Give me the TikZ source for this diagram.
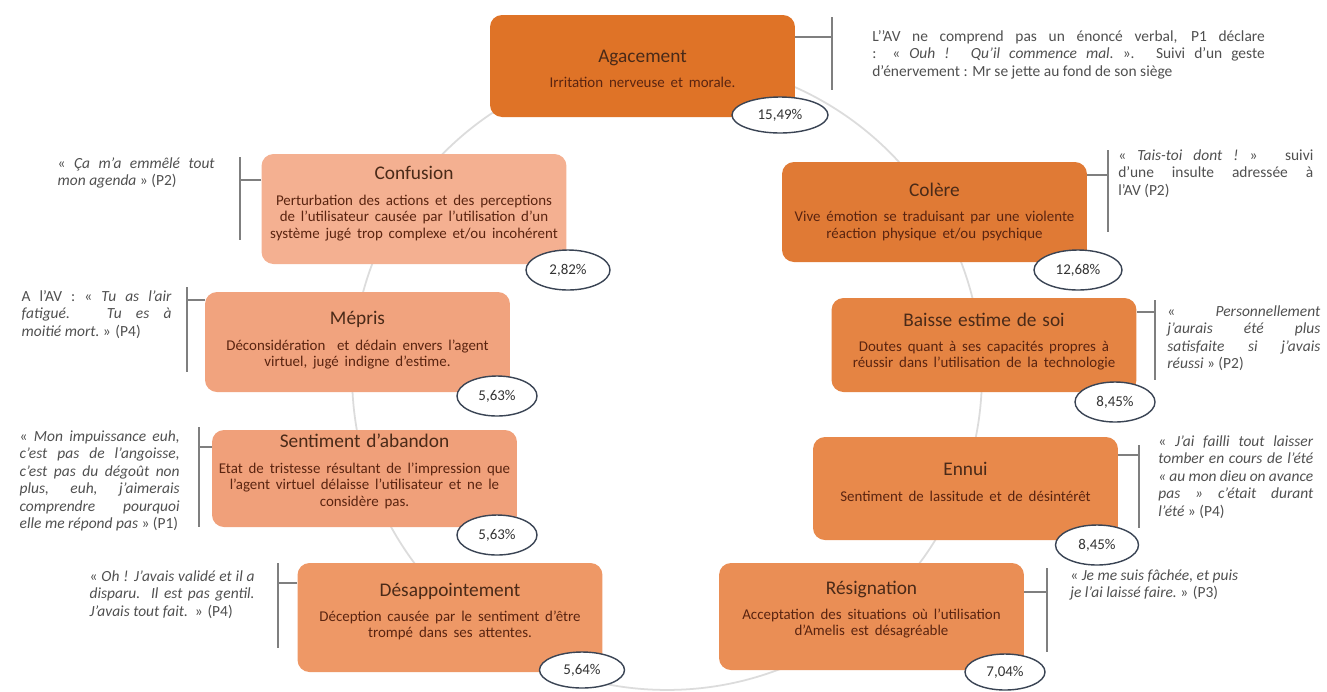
\documentclass[tikz,border=0pt]{standalone}
\usepackage{fontspec}
\setmainfont{Carlito}
\usetikzlibrary{shapes.geometric}
\definecolor{cAga}{HTML}{DF7327}
\definecolor{cCol}{HTML}{E07A35}
\definecolor{cBai}{HTML}{E58443}
\definecolor{cEnn}{HTML}{E8894B}
\definecolor{cRes}{HTML}{EA8E55}
\definecolor{cDes}{HTML}{EE9866}
\definecolor{cSen}{HTML}{F0A07A}
\definecolor{cMep}{HTML}{F1A37E}
\definecolor{cCon}{HTML}{F4B091}
\definecolor{ttlC}{HTML}{4A2A18}
\definecolor{dscC}{HTML}{5A2410}
\definecolor{ellC}{HTML}{3A4454}
\definecolor{brkC}{HTML}{7F7F7F}
\definecolor{qC}{HTML}{505050}
\definecolor{ringC}{HTML}{DCDCDC}
\newcommand\emo[2]{{\fontsize{11}{13}\selectfont\color{ttlC}#1\par}\vspace{5pt}{\fontsize{8.5}{9.4}\selectfont\color{dscC}#2\par}}
\newdimen\qw
\newcommand\ql[1]{\hbox to \qw{#1}}
\newcommand\qe[1]{\hbox{#1}}
\begin{document}
\begin{tikzpicture}[x=0.02cm,y=-0.02cm,
  emobox/.style={rectangle, rounded corners=0.24cm, minimum width=6.1cm, inner sep=0pt},
  emotxt/.style={text width=6.05cm, align=center, inner sep=0pt},
  pct/.style={ellipse, draw=ellC, line width=0.8pt, fill=white, inner sep=0pt, font=\fontsize{8.5}{10}\selectfont, text=black!80},
  brk/.style={draw=brkC, line width=0.8pt},
  qt/.style={inner sep=0pt, text=qC, font=\fontsize{8.8}{10}\selectfont}]
\useasboundingbox (0,0) rectangle (1327,691);
\fill[white] (0,0) rectangle (1327,691);
% ring
\draw[ringC, line width=1pt] (667,375) circle [radius=6.3cm];
% boxes
\node[emobox, fill=cAga, minimum height=102*0.02cm] (aga) at (642.5,66) {};
\node[emotxt] (agaT) at ([yshift=-0.06cm]aga.center) {\emo{Agacement}{Irritation nerveuse et morale.}};
\node[emobox, fill=cCon, minimum height=110*0.02cm] (con) at (414,209) {};
\node[emotxt] (conT) at ([yshift=0.11cm]con.center) {\emo{Confusion}{Perturbation des actions et des perceptions\\ de l’utilisateur causée par l’utilisation d’un\\ système jugé trop complexe et/ou incohérent}};
\node[emobox, fill=cCol, minimum height=100*0.02cm] (col) at (934.5,212) {};
\node[emotxt] (colT) at (col.center) {\emo{Colère}{Vive émotion se traduisant par une violente\\ réaction physique et/ou psychique}};
\node[emobox, fill=cMep, minimum height=100*0.02cm] (mep) at (357.5,342) {};
\node[emotxt] (mepT) at ([yshift=0.03cm]mep.center) {\emo{Mépris}{Déconsidération~ et dédain envers l’agent\\ virtuel, jugé indigne d’estime.}};
\node[emobox, fill=cBai, minimum height=94*0.02cm] (bai) at (984,345) {};
\node[emotxt] (baiT) at ([yshift=0.07cm]bai.center) {\emo{Baisse estime de soi}{Doutes quant à ses capacités propres à\\ réussir dans l’utilisation de la technologie}};
\node[emobox, fill=cSen, minimum height=97*0.02cm] (sen) at (364.5,478.5) {};
\node[emotxt] (senT) at ([yshift=0.14cm]sen.center) {\emo{Sentiment d’abandon}{\mbox{Etat de tristesse résultant de l’impression que}\\ l’agent virtuel délaisse l’utilisateur et ne le\\ considère pas.}};
\node[emobox, fill=cEnn, minimum height=103*0.02cm] (enn) at (965.5,488.5) {};
\node[emotxt] (ennT) at ([yshift=0.13cm]enn.center) {\emo{Ennui}{Sentiment de lassitude et de désintérêt}};
\node[emobox, fill=cDes, minimum height=109*0.02cm] (des) at (450,617.5) {};
\node[emotxt] (desT) at ([yshift=0.12cm]des.center) {\emo{Désappointement}{Déception causée par le sentiment d’être\\ trompé dans ses attentes.}};
\node[emobox, fill=cRes, minimum height=107*0.02cm] (res) at (871.5,616.5) {};
\node[emotxt] (resT) at ([yshift=0.14cm]res.center) {\emo{Résignation}{Acceptation des situations où l’utilisation\\ d’Amelis est désagréable}};
% brackets
\coordinate (agaH) at (832,37);
\draw[brk] (aga.east |- agaH) -- (agaH);
\draw[brk] (832,17) -- (832,90);
\coordinate (conH) at (240,180);
\draw[brk] (con.west |- conH) -- (conH);
\draw[brk] (240,157) -- (240,240);
\coordinate (colH) at (1108,175);
\draw[brk] (col.east |- colH) -- (colH);
\draw[brk] (1108,150) -- (1108,232);
\coordinate (mepH) at (187,300);
\draw[brk] (mep.west |- mepH) -- (mepH);
\draw[brk] (187,287) -- (187,372);
\coordinate (baiH) at (1155,312);
\draw[brk] (bai.east |- baiH) -- (baiH);
\draw[brk] (1155,300) -- (1155,380);
\coordinate (senH) at (199,447);
\draw[brk] (sen.west |- senH) -- (senH);
\draw[brk] (199,427) -- (199,527);
\coordinate (ennH) at (1139,455);
\draw[brk] (enn.east |- ennH) -- (ennH);
\draw[brk] (1139,445) -- (1139,528);
\coordinate (desH) at (278,583);
\draw[brk] (des.west |- desH) -- (desH);
\draw[brk] (278,563) -- (278,648);
\coordinate (resH) at (1047,592);
\draw[brk] (res.east |- resH) -- (resH);
\draw[brk] (1047,568) -- (1047,652);
% percentages
\node[pct, minimum width=96*0.02cm, minimum height=36*0.02cm] (agaP) at (780,115) {15,49\%};
\node[pct, minimum width=84*0.02cm, minimum height=40*0.02cm] (conP) at (568,270) {2,82\%};
\node[pct, minimum width=88*0.02cm, minimum height=40*0.02cm] (colP) at (1078,270) {12,68\%};
\node[pct, minimum width=80*0.02cm, minimum height=40*0.02cm] (mepP) at (497,396) {5,63\%};
\node[pct, minimum width=80*0.02cm, minimum height=40*0.02cm] (baiP) at (1115,402) {8,45\%};
\node[pct, minimum width=80*0.02cm, minimum height=40*0.02cm] (senP) at (497,535) {5,63\%};
\node[pct, minimum width=83*0.02cm, minimum height=40*0.02cm] (ennP) at (1097,545) {8,45\%};
\node[pct, minimum width=85*0.02cm, minimum height=36*0.02cm] (desP) at (582,670) {5,64\%};
\node[pct, minimum width=80*0.02cm, minimum height=36*0.02cm] (resP) at (1005,672) {7,04\%};
% quotes
\node[qt, anchor=north west] (agaQ) at (872,30) {\qw=7.85cm\vbox{\ql{L’’AV ne comprend pas un énoncé verbal, P1 déclare}\ql{: «~\textit{Ouh ! Qu’il commence mal.}~». Suivi d’un geste}\qe{d’énervement : Mr se jette au fond de son siège}}};
\node[qt, anchor=north east] (conQ) at (215,157) {\qw=3.14cm\vbox{\ql{«~\textit{Ça m’a emmêlé tout}}\qe{\textit{mon agenda}~» (P2)}}};
\node[qt, anchor=north west] (colQ) at (1118,149) {\qw=3.9cm\vbox{\ql{«~\textit{Tais-toi dont !}~» suivi}\ql{d’une insulte adressée à}\qe{l’AV (P2)}}};
\node[qt, anchor=north east] (mepQ) at (172,290) {\qw=3.0cm\vbox{\ql{A l’AV : «~\textit{Tu as l’air}}\ql{\textit{fatigué. Tu es à}}\qe{\textit{moitié mort.}~» (P4)}}};
\node[qt, anchor=north west] (baiQ) at (1167,305) {\qw=3.06cm\vbox{\ql{« \textit{Personnellement}}\ql{\textit{j’aurais été plus}}\ql{\textit{satisfaite si j’avais}}\qe{\textit{réussi}~» (P2)}}};
\node[qt, anchor=north east] (senQ) at (180,430) {\qw=3.2cm\vbox{\ql{«~\textit{Mon impuissance euh,}}\ql{\textit{c’est pas de l’angoisse,}}\ql{\textit{c’est pas du dégoût non}}\ql{\textit{plus, euh, j’aimerais}}\ql{\textit{comprendre pourquoi}}\qe{\textit{elle me répond pas}~» (P1)}}};
\node[qt, anchor=north west] (ennQ) at (1158,435) {\qw=3.1cm\vbox{\ql{«~\textit{J’ai failli tout laisser}}\ql{\textit{tomber en cours de l’été}}\ql{\textit{« au mon dieu on avance}}\ql{\textit{pas » c’était durant}}\qe{\textit{l’été}~» (P4)}}};
\node[qt, anchor=north east] (desQ) at (255,570) {\qw=3.3cm\vbox{\ql{«~\textit{Oh ! J’avais validé et il a}}\ql{\textit{disparu. Il est pas gentil.}}\qe{\textit{J’avais tout fait.}~~» (P4)}}};
\node[qt, anchor=north west] (resQ) at (1070,569) {\vbox{\qe{«~\textit{Je me suis fâchée, et puis}}\qe{\textit{je l’ai laissé faire.}~» (P3)}}};
\end{tikzpicture}
\end{document}
